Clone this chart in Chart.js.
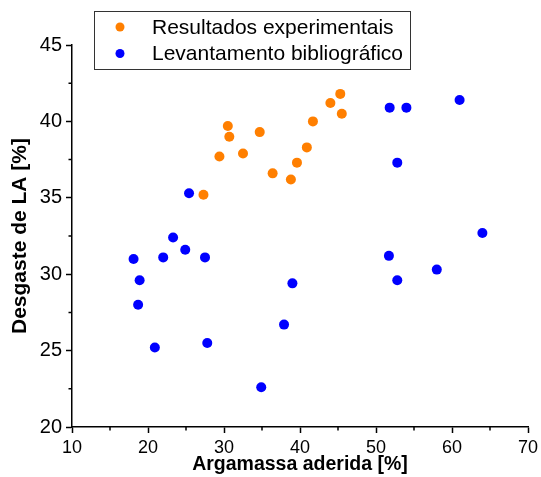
<!DOCTYPE html>
<html>
<head>
<meta charset="utf-8">
<script src="https://cdn.jsdelivr.net/npm/chart.js@4"></script>
<style>
  html, body { margin: 0; padding: 0; background: #fff; }
  #wrap { width: 541px; height: 477px; }
</style>
</head>
<body>
<div id="wrap"><canvas id="scatterChart"></canvas></div>
<script>
// Resultados experimentais
const expArgamassa = [45.3, 44.0, 45.5, 41.7, 30.5, 30.7, 34.7, 40.9, 29.4, 32.5, 39.6, 36.4, 38.8, 27.3];
const expDesgaste  = [41.8, 41.2, 40.5, 40.0, 39.7, 39.0, 39.3, 38.3, 37.7, 37.9, 37.3, 36.6, 36.2, 35.2];

// Levantamento bibliografico
const bibArgamassa = [51.8, 54.0, 61.0, 52.8, 25.4, 23.3, 24.9, 18.1, 22.0, 27.5, 64.0, 51.7, 58.0, 18.9, 39.0, 52.8, 18.7, 37.9, 20.9, 27.8, 34.9];
const bibDesgaste  = [40.9, 40.9, 41.4, 37.3, 35.3, 32.4, 31.6, 31.0, 31.1, 31.1, 32.7, 31.2, 30.3, 29.6, 29.4, 29.6, 28.0, 26.7, 25.2, 25.5, 22.6];

const xMinor = [15, 25, 35, 45, 55, 65];
const yMinor = [22.5, 27.5, 32.5, 37.5, 42.5];

const toPoints = (xs, ys) => xs.map((v, i) => ({ x: v, y: ys[i] }));
const fontFamily = "'Liberation Sans', Arial, sans-serif";
Chart.defaults.font.family = fontFamily;
Chart.defaults.color = '#000';

// short minor ticks between the labelled ones
const minorTicks = {
  id: 'minorTicks',
  afterDraw(chart) {
    const { ctx, chartArea, scales: { x, y } } = chart;
    ctx.save();
    ctx.strokeStyle = '#000';
    ctx.lineWidth = 1.5;
    ctx.beginPath();
    xMinor.forEach(v => {
      const px = x.getPixelForValue(v);
      ctx.moveTo(px, chartArea.bottom);
      ctx.lineTo(px, chartArea.bottom + 3.5);
    });
    yMinor.forEach(v => {
      const py = y.getPixelForValue(v);
      ctx.moveTo(chartArea.left, py);
      ctx.lineTo(chartArea.left - 3.5, py);
    });
    ctx.stroke();
    ctx.restore();
  }
};

// boxed legend that overlaps the top of the plot
const boxLegend = {
  id: 'boxLegend',
  afterDraw(chart) {
    const ctx = chart.ctx;
    ctx.save();
    ctx.fillStyle = '#fff';
    ctx.fillRect(94, 11, 316, 58);
    ctx.strokeStyle = '#333';
    ctx.lineWidth = 1;
    ctx.strokeRect(94.5, 11.5, 316, 58);
    ctx.font = '21px ' + fontFamily;
    ctx.textBaseline = 'middle';
    chart.data.datasets.forEach((ds, i) => {
      const cy = 27 + i * 26.5;
      ctx.fillStyle = ds.backgroundColor;
      ctx.beginPath();
      ctx.arc(120, cy, 4.5, 0, Math.PI * 2);
      ctx.fill();
      ctx.fillStyle = '#000';
      ctx.fillText(ds.label, 152, cy + 1);
    });
    ctx.restore();
  }
};

const ctx = document.getElementById('scatterChart').getContext('2d');
new Chart(ctx, {
  type: 'scatter',
  data: {
    datasets: [{
      label: 'Resultados experimentais',
      data: toPoints(expArgamassa, expDesgaste),
      backgroundColor: '#FF7F00',
      borderWidth: 0,
      pointRadius: 5
    }, {
      label: 'Levantamento bibliográfico',
      data: toPoints(bibArgamassa, bibDesgaste),
      backgroundColor: '#0000FF',
      borderWidth: 0,
      pointRadius: 5
    }]
  },
  options: {
    responsive: true,
    maintainAspectRatio: false,
    animation: false,
    layout: { padding: { top: 45, right: 13, left: 0, bottom: 0 } },
    plugins: { legend: { display: false }, tooltip: { enabled: false } },
    scales: {
      x: {
        min: 10, max: 70,
        ticks: { stepSize: 10, font: { size: 18 }, padding: 4, color: '#000' },
        grid: { drawOnChartArea: false, tickLength: 6, tickWidth: 1.5, tickColor: '#000' },
        border: { color: '#000', width: 1.5 },
        title: { display: true, text: 'Argamassa aderida [%]', font: { size: 19.5, weight: 'bold' }, padding: { bottom: 0.5, top: 0 } },
        afterFit: scale => {
          scale.height = 50;
          scale.paddingLeft = 0;
          scale.paddingRight = 0;
        }
      },
      y: {
        min: 20, max: 45,
        ticks: { stepSize: 5, font: { size: 20 }, padding: 4, color: '#000' },
        grid: { drawOnChartArea: false, tickLength: 6, tickWidth: 1.5, tickColor: '#000' },
        border: { color: '#000', width: 1.5 },
        title: { display: true, text: 'Desgaste de LA [%]', font: { size: 21, weight: 'bold' }, padding: { top: 8, bottom: 0 } },
        afterFit: scale => {
          scale.width = 72;
          scale.paddingTop = 0;
          scale.paddingBottom = 0;
        }
      }
    }
  },
  plugins: [minorTicks, boxLegend]
});
</script>
</body>
</html>
